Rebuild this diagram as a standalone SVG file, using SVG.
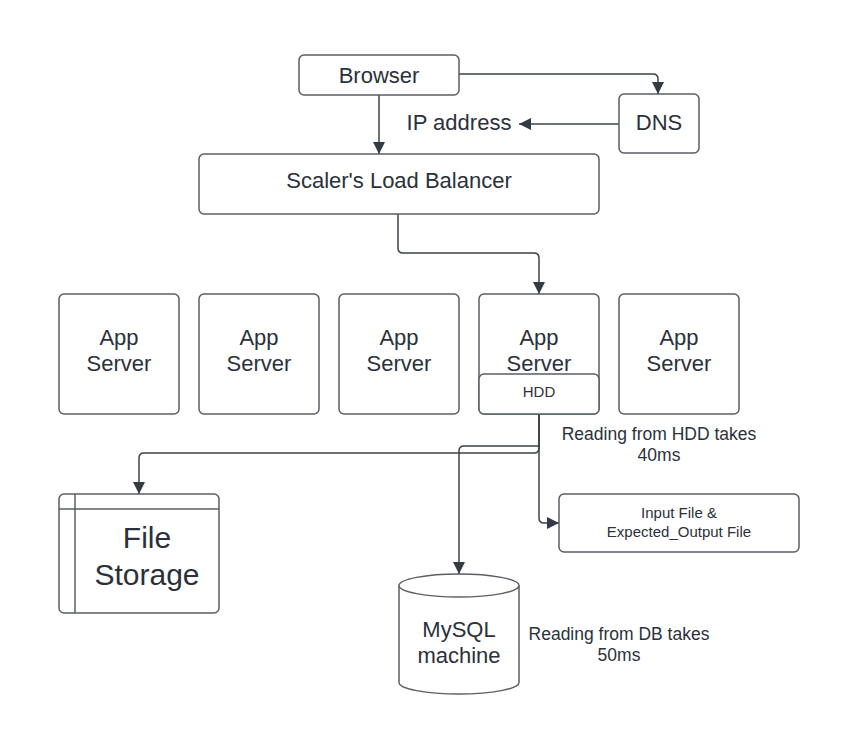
<svg xmlns="http://www.w3.org/2000/svg" width="858" height="748" viewBox="0 0 858 748">
<style>
.n{fill:#fff;stroke:#5a5e66;stroke-width:1.5}
.c{fill:none;stroke:#3d434b;stroke-width:1.5}
text{font-family:"Liberation Sans",Arial,sans-serif;fill:#2b313a;text-anchor:middle}
.t22{font-size:22px}
.t17{font-size:17.5px}
.t15{font-size:15px}
.t30{font-size:30px}
</style>
<defs>
<marker id="a" viewBox="0 0 12 12" refX="12" refY="6" markerWidth="12" markerHeight="12" markerUnits="userSpaceOnUse" orient="auto">
<path d="M0,0 L12,6 L0,12 z" fill="#333a44"/>
</marker>
</defs>
<rect width="858" height="748" fill="#fff"/>
<g id="connectors">
<path class="c" d="M459,74 H653 Q658,74 658,79 V94" marker-end="url(#a)"/>
<path class="c" d="M619,124 H519" marker-end="url(#a)"/>
<path class="c" d="M379,95 V154" marker-end="url(#a)"/>
<path class="c" d="M398,214 V248 Q398,253 403,253 H534 Q539,253 539,258 V294" marker-end="url(#a)"/>
<path class="c" d="M539,414 V448 Q539,453 534,453 H144 Q139,453 139,458 V494" marker-end="url(#a)"/>
<path class="c" d="M539,414 V446 H464 Q459,446 459,451 V574" marker-end="url(#a)"/>
<path class="c" d="M539,414 V518 Q539,523 544,523 H559" marker-end="url(#a)"/>
</g>
<g id="browser">
<rect class="n" x="299" y="55" width="160" height="40" rx="5"/>
<text class="t22" x="379" y="83">Browser</text>
</g>
<g id="dns">
<rect class="n" x="619" y="94" width="80" height="59" rx="5"/>
<text class="t22" x="659" y="130">DNS</text>
</g>
<g id="ip-label">
<text class="t22" x="459" y="130">IP address</text>
</g>
<g id="load-balancer">
<rect class="n" x="199" y="154" width="400" height="60" rx="5"/>
<text class="t22" x="399" y="188">Scaler's Load Balancer</text>
</g>
<g id="app1">
<rect class="n" x="59" y="294" width="120" height="120" rx="5"/>
<text class="t22" x="119" y="345">App</text>
<text class="t22" x="119" y="371">Server</text>
</g>
<g id="app2">
<rect class="n" x="199" y="294" width="120" height="120" rx="5"/>
<text class="t22" x="259" y="345">App</text>
<text class="t22" x="259" y="371">Server</text>
</g>
<g id="app3">
<rect class="n" x="339" y="294" width="120" height="120" rx="5"/>
<text class="t22" x="399" y="345">App</text>
<text class="t22" x="399" y="371">Server</text>
</g>
<g id="app4">
<rect class="n" x="479" y="294" width="120" height="120" rx="5"/>
<text class="t22" x="539" y="345">App</text>
<text class="t22" x="539" y="371">Server</text>
</g>
<g id="app5">
<rect class="n" x="619" y="294" width="120" height="120" rx="5"/>
<text class="t22" x="679" y="345">App</text>
<text class="t22" x="679" y="371">Server</text>
</g>
<g id="hdd">
<rect class="n" x="479" y="374" width="120" height="40" rx="5"/>
<text class="t15" x="539" y="397">HDD</text>
</g>
<g id="hdd-label">
<text class="t17" x="659" y="440">Reading from HDD takes</text>
<text class="t17" x="659" y="461">40ms</text>
</g>
<g id="file-storage">
<rect class="n" x="59" y="494" width="160" height="119" rx="5"/>
<line class="n" x1="59" y1="509" x2="219" y2="509"/>
<line class="n" x1="75" y1="494" x2="75" y2="613"/>
<text class="t30" x="147" y="548">File</text>
<text class="t30" x="147" y="585">Storage</text>
</g>
<g id="input-file">
<rect class="n" x="559" y="494" width="240" height="58" rx="5"/>
<text class="t15" x="679" y="518">Input File &amp;</text>
<text class="t15" x="679" y="537">Expected_Output File</text>
</g>
<g id="mysql">
<path class="n" d="M399,585.5 V682.5 A60,11.5 0 0 0 519,682.5 V585.5 A60,11.5 0 0 0 399,585.5 Z"/>
<path class="n" fill="none" d="M399,585.5 A60,11.5 0 0 0 519,585.5"/>
<text class="t22" x="459" y="637">MySQL</text>
<text class="t22" x="459" y="663">machine</text>
</g>
<g id="db-label">
<text class="t17" x="619" y="640">Reading from DB takes</text>
<text class="t17" x="619" y="661">50ms</text>
</g>
</svg>
